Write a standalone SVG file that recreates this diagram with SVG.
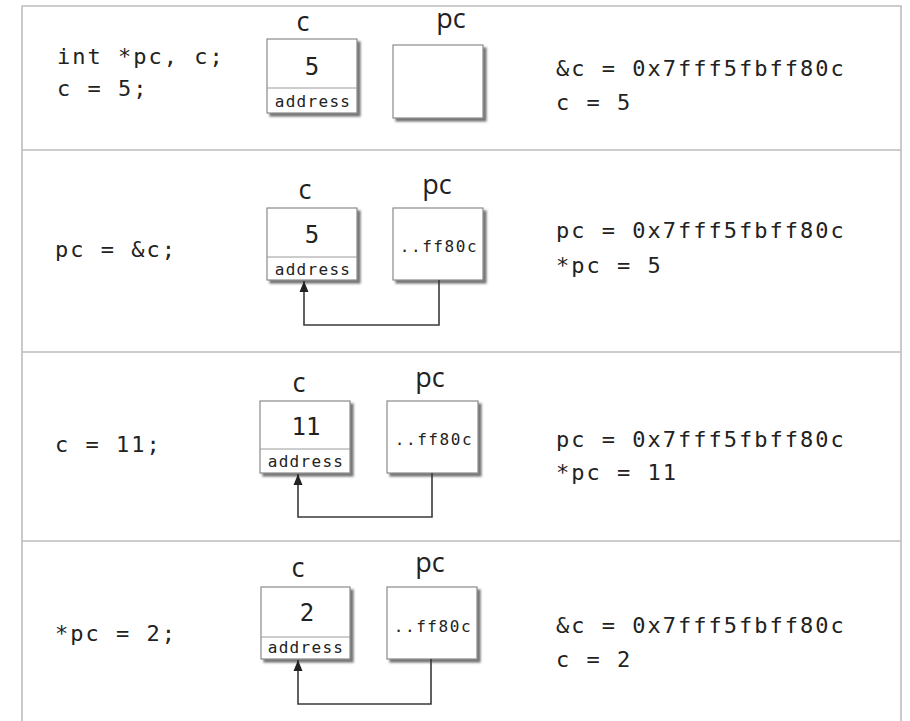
<svg xmlns="http://www.w3.org/2000/svg" width="910" height="721" viewBox="0 0 910 721">
<defs>
<style>
.code{font-family:"DejaVu Sans Mono","Liberation Mono",monospace;font-size:22px;letter-spacing:2px;fill:#222}
.lbl{font-family:"Open Sans","Noto Sans",sans-serif;font-size:27px;fill:#222;text-anchor:middle}
.val{font-family:"DejaVu Sans Mono","Liberation Mono",monospace;font-size:24px;fill:#222;text-anchor:middle}
.addr{font-family:"DejaVu Sans Mono","Liberation Mono",monospace;font-size:16px;letter-spacing:1.3px;fill:#222;text-anchor:middle}
.ptr{font-family:"DejaVu Sans Mono","Liberation Mono",monospace;font-size:16px;letter-spacing:1.6px;fill:#222;text-anchor:middle}
.box{fill:#fff;stroke:#8a8a8a;stroke-width:1.2;filter:url(#sh)}
.div{stroke:#9a9a9a;stroke-width:1}
.grid{stroke:#bdbdbd;stroke-width:1.6;fill:none}
.conn{fill:none;stroke:#3a3a3a;stroke-width:1.6}
</style>
<filter id="sh" x="-10%" y="-10%" width="130%" height="130%">
<feDropShadow dx="3" dy="3" stdDeviation="1.3" flood-color="#444" flood-opacity="0.75"/>
</filter>
<marker id="ah" markerWidth="12" markerHeight="10" refX="11" refY="5" orient="auto" markerUnits="userSpaceOnUse" viewBox="0 0 12 10">
<path d="M0 0.5 L11 5 L0 9.5 Z" fill="#222"/>
</marker>
</defs>

<g id="table">
<path class="grid" d="M22 721 V6 H901 V721"/>
<line class="grid" x1="22" y1="150" x2="901" y2="150"/>
<line class="grid" x1="22" y1="352" x2="901" y2="352"/>
<line class="grid" x1="22" y1="541" x2="901" y2="541"/>
</g>

<g id="row1">
<text class="code" x="57" y="64">int *pc, c;</text>
<text class="code" x="57" y="96">c = 5;</text>
<text class="code" x="556" y="76">&amp;c = 0x7fff5fbff80c</text>
<text class="code" x="556" y="110">c = 5</text>
</g>
<g id="c1">
<text class="lbl" x="303" y="31">c</text>
<rect class="box" x="267" y="39" width="90" height="74"/>
<line class="div" x1="267" y1="88" x2="357" y2="88"/>
<text class="val" x="312" y="75">5</text>
<text class="addr" x="313" y="107">address</text>
</g>
<g id="pc1">
<text class="lbl" x="451" y="28">pc</text>
<rect class="box" x="393" y="45" width="90" height="73"/>
</g>

<g id="row2">
<text class="code" x="55" y="257">pc = &amp;c;</text>
<text class="code" x="556" y="238">pc = 0x7fff5fbff80c</text>
<text class="code" x="556" y="273">*pc = 5</text>
</g>
<g id="c2">
<text class="lbl" x="305" y="199">c</text>
<rect class="box" x="267" y="208" width="90" height="72"/>
<line class="div" x1="267" y1="257" x2="357" y2="257"/>
<text class="val" x="312" y="243">5</text>
<text class="addr" x="313" y="275">address</text>
</g>
<g id="pc2">
<text class="lbl" x="437" y="194">pc</text>
<rect class="box" x="393" y="208" width="90" height="72"/>
<text class="ptr" x="439" y="252">..ff80c</text>
</g>

<g id="row3">
<text class="code" x="55" y="452">c = 11;</text>
<text class="code" x="556" y="447">pc = 0x7fff5fbff80c</text>
<text class="code" x="556" y="480">*pc = 11</text>
</g>
<g id="c3">
<text class="lbl" x="299" y="392">c</text>
<rect class="box" x="260" y="401" width="90" height="72"/>
<line class="div" x1="260" y1="449" x2="350" y2="449"/>
<text class="val" x="306" y="435">11</text>
<text class="addr" x="306" y="467">address</text>
</g>
<g id="pc3">
<text class="lbl" x="430" y="387">pc</text>
<rect class="box" x="387" y="401" width="91" height="72"/>
<text class="ptr" x="434" y="445">..ff80c</text>
</g>

<g id="row4">
<text class="code" x="55" y="641">*pc = 2;</text>
<text class="code" x="556" y="633">&amp;c = 0x7fff5fbff80c</text>
<text class="code" x="556" y="667">c = 2</text>
</g>
<g id="c4">
<text class="lbl" x="298" y="577">c</text>
<rect class="box" x="261" y="587" width="89" height="72"/>
<line class="div" x1="261" y1="637" x2="350" y2="637"/>
<text class="val" x="307" y="621">2</text>
<text class="addr" x="306" y="653">address</text>
</g>
<g id="pc4">
<text class="lbl" x="430" y="572">pc</text>
<rect class="box" x="387" y="587" width="90" height="72"/>
<text class="ptr" x="433" y="632">..ff80c</text>
</g>

<g id="connectors">
<path class="conn" d="M439 280 V325 H304 V281" marker-end="url(#ah)"/>
<path class="conn" d="M432 473 V517 H298 V474" marker-end="url(#ah)"/>
<path class="conn" d="M431 659 V704 H298 V660" marker-end="url(#ah)"/>
</g>
</svg>
